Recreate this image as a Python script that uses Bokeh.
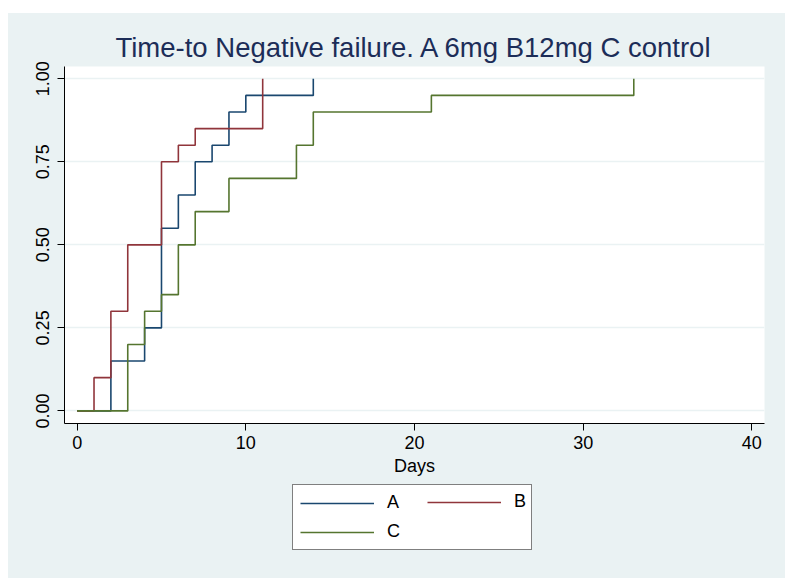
from bokeh.plotting import figure
from bokeh.models import (Range1d, FixedTicker, NumeralTickFormatter, Legend,
                          LegendItem, Spacer, Title)
from bokeh.layouts import column, row
from bokeh.embed import file_html
from bokeh.resources import INLINE

# --- data ---
title_text = "Time-to Negative failure. A 6mg B12mg C control"
x_label = "Days"
x_ticks = [0, 10, 20, 30, 40]
y_ticks = [0.0, 0.25, 0.5, 0.75, 1.0]

series_names = ["A", "B", "C"]
a_days = [0, 2, 4, 5, 6, 7, 8, 9, 10, 14]
a_fail = [0.0, 0.15, 0.25, 0.55, 0.65, 0.75, 0.80, 0.90, 0.95, 1.0]
b_days = [0, 1, 2, 3, 5, 6, 7, 11]
b_fail = [0.0, 0.10, 0.30, 0.50, 0.75, 0.80, 0.85, 1.0]
c_days = [0, 3, 4, 5, 6, 7, 9, 13, 14, 21, 33]
c_fail = [0.0, 0.20, 0.30, 0.35, 0.50, 0.60, 0.70, 0.80, 0.90, 0.95, 1.0]

colors = ["#1A476F", "#90353B", "#55752F"]
BG = "#EAF2F3"
FONT = "Liberation Sans"
all_days = [a_days, b_days, c_days]
all_fail = [a_fail, b_fail, c_fail]

# ---------------- main chart ----------------
p = figure(width=777, height=467, output_backend="svg", toolbar_location=None,
           x_range=Range1d(-0.75, 40.75), y_range=Range1d(-0.038, 1.037),
           min_border_left=56, min_border_right=21, min_border_top=53,
           min_border_bottom=57)
p.background_fill_color = "white"
p.border_fill_color = BG
p.outline_line_color = None

t = Title(text=title_text, align="center", text_font=FONT,
          text_font_size="27.5px", text_font_style="normal",
          text_color="#1C2D58", standoff=8)
p.add_layout(t, "above")

for xs, ys, c in zip(all_days, all_fail, colors):
    p.step(xs, ys, mode="after", line_color=c, line_width=1.6)

for ax in (p.xaxis[0], p.yaxis[0]):
    ax.axis_line_color = "black"
    ax.axis_line_width = 1
    ax.major_tick_line_color = "black"
    ax.major_tick_in = 0
    ax.major_tick_out = 7
    ax.minor_tick_line_color = None
    ax.major_label_text_font = FONT
    ax.major_label_text_font_size = "18px"
    ax.major_label_text_color = "black"

p.xaxis.ticker = FixedTicker(ticks=x_ticks)
p.yaxis.ticker = FixedTicker(ticks=y_ticks)
p.yaxis.formatter = NumeralTickFormatter(format="0.00")
p.yaxis.major_label_orientation = "vertical"
p.xaxis.major_label_standoff = 5
p.yaxis.major_label_standoff = 8
p.xaxis.axis_label = x_label
p.xaxis.axis_label_text_font = FONT
p.xaxis.axis_label_text_font_size = "18px"
p.xaxis.axis_label_text_font_style = "normal"
p.xaxis.axis_label_text_color = "black"
p.xaxis.axis_label_standoff = 4

p.xgrid.grid_line_color = None
p.ygrid.grid_line_color = BG
p.ygrid.grid_line_width = 1.5

# ---------------- legend strip ----------------
lg = figure(width=777, height=98, output_backend="svg", toolbar_location=None,
            x_range=Range1d(1000, 1001), y_range=Range1d(1000, 1001),
            min_border=0)
lg.axis.visible = False
lg.grid.visible = False
lg.background_fill_color = None
lg.border_fill_color = BG
lg.outline_line_color = None

renderers = []
for xs, ys, c in zip(all_days, all_fail, colors):
    renderers.append(lg.step(xs, ys, mode="after", line_color=c, line_width=1.6))
items = {n: LegendItem(label=n, renderers=[r]) for n, r in zip(series_names, renderers)}

common = dict(glyph_width=74, glyph_height=20, label_height=20,
              label_standoff=13, margin=0,
              label_text_font=FONT, label_text_font_size="18px",
              label_text_color="black")

# boxed legend with the left column (A, C)
leg1 = Legend(items=[items["A"], items["C"]], location=(228, 28),
              orientation="vertical", label_width=137, spacing=8, padding=7,
              border_line_color="black", border_line_width=1,
              background_fill_color="white", background_fill_alpha=1, **common)
# right column (B) inside the same box
leg2 = Legend(items=[items["B"]], location=(363, 66),
              orientation="vertical", label_width=13, spacing=0, padding=0,
              border_line_color=None, background_fill_alpha=0, **common)
lg.add_layout(leg1, "center")
lg.add_layout(leg2, "center")

inner = column(p, lg, styles={"background-color": BG})
layout = column(Spacer(height=13, width=785),
                row(Spacer(width=8, height=565), inner))
open("out.html", "w").write(file_html(layout, INLINE))
